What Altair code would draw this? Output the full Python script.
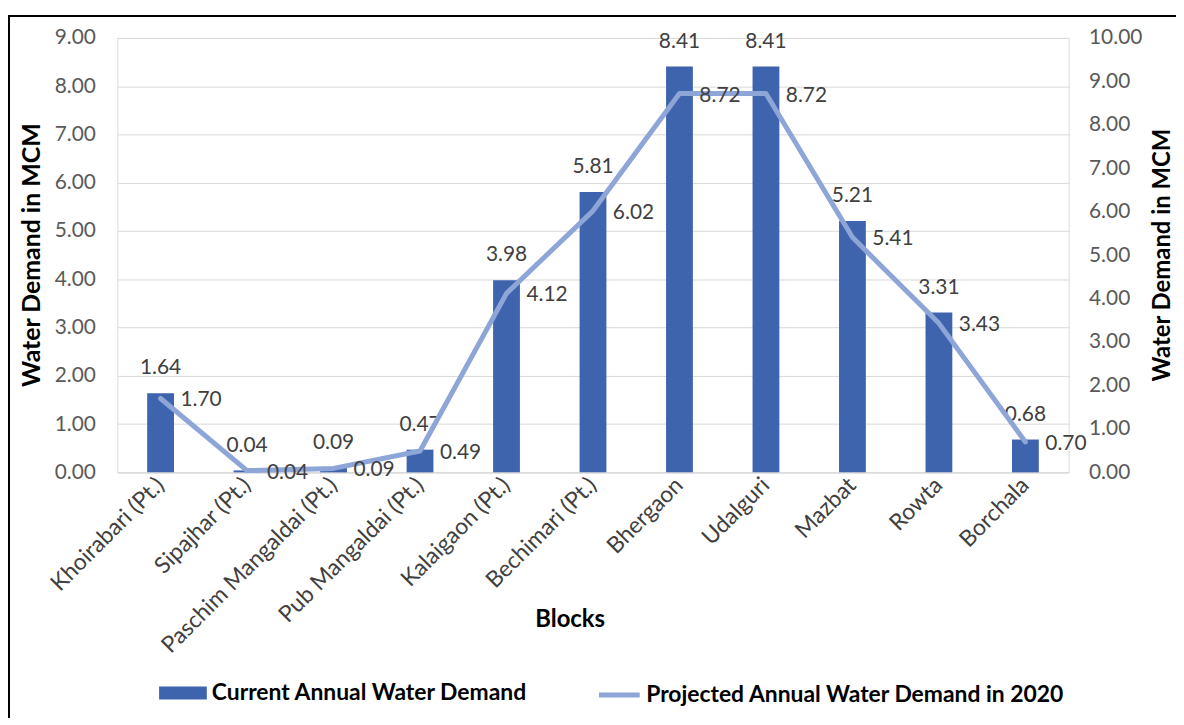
import altair as alt
import pandas as pd

blocks = ["Khoirabari (Pt.)", "Sipajhar (Pt.)", "Paschim Mangaldai (Pt.)", "Pub Mangaldai (Pt.)",
          "Kalaigaon (Pt.)", "Bechimari (Pt.)", "Bhergaon", "Udalguri", "Mazbat", "Rowta", "Borchala"]
current = [1.64, 0.04, 0.09, 0.47, 3.98, 5.81, 8.41, 8.41, 5.21, 3.31, 0.68]
projected = [1.70, 0.04, 0.09, 0.49, 4.12, 6.02, 8.72, 8.72, 5.41, 3.43, 0.70]
left_ticks = [0, 1, 2, 3, 4, 5, 6, 7, 8, 9]
right_ticks = [0, 1, 2, 3, 4, 5, 6, 7, 8, 9, 10]
bar_series = "Current Annual Water Demand"
line_series = "Projected Annual Water Demand in  2020"
x_title = "Blocks"
y_title = "Water Demand in MCM"

df = pd.DataFrame({"block": blocks, "current": current, "projected": projected,
                   "bar_series": bar_series, "line_series": line_series})

FONT = "Lato"
BAR_COLOR = "#3E64AD"
LINE_COLOR = "#8EA5D8"
GRID = "#D9D9D9"
LABEL_SIZE = 21

x_axis = alt.Axis(
    title=x_title, labelAngle=-45, labelAlign="right", labelBaseline="middle",
    labelPadding=9, labelFont=FONT, labelFontSize=23, labelColor="#404040",
    labelOverlap=False, labelLimit=400, ticks=False, domain=True, domainColor=GRID,
    domainWidth=1, grid=False, titleFont=FONT, titleFontSize=24, titleFontWeight="bold",
    titleColor="black", titleX=455, titleY=148, titleBaseline="middle",
)
x_enc = alt.X("block:N", sort=blocks, axis=x_axis,
              scale=alt.Scale(paddingInner=0.69, paddingOuter=0.345))

left_axis = alt.Axis(
    values=left_ticks, format=".2f", orient="left", grid=True, gridColor=GRID, gridWidth=1,
    domain=False, ticks=False, labelFont=FONT, labelFontSize=LABEL_SIZE, labelColor="#595959",
    labelPadding=22, title=y_title, titleFont=FONT, titleFontSize=25, titleFontWeight="bold",
    titleColor="black", titleAngle=-90, titleX=-86, titleY=218, titleBaseline="middle",
)
right_axis = alt.Axis(
    values=right_ticks, format=".2f", orient="right", grid=False, domain=False, ticks=False,
    labelFont=FONT, labelFontSize=LABEL_SIZE, labelColor="#595959", labelAlign="left",
    labelPadding=20, title=y_title, titleFont=FONT, titleFontSize=24, titleFontWeight="bold",
    titleColor="black", titleAngle=-90, titleX=94, titleY=218, titleBaseline="middle",
)
y_left = alt.Y("current:Q", scale=alt.Scale(domain=[0, 9], nice=False, zero=True), axis=left_axis)
y_right = alt.Y("projected:Q", scale=alt.Scale(domain=[0, 10], nice=False, zero=True), axis=right_axis)

base = alt.Chart(df)

bars = base.mark_bar(color=BAR_COLOR).encode(
    x=x_enc, y=y_left,
    fill=alt.Fill("bar_series:N", scale=alt.Scale(domain=[bar_series], range=[BAR_COLOR]),
                  legend=alt.Legend(orient="none", legendX=42, legendY=635, title=None,
                                    symbolType="M-1,-0.27H1V0.27H-1Z", symbolSize=2304,
                                    symbolStrokeWidth=0, labelFont=FONT, labelFontWeight="bold",
                                    labelFontSize=23, labelColor="black", labelOffset=5,
                                    padding=0, labelLimit=600)),
)
bar_labels = base.mark_text(dy=-25, baseline="middle", align="center", font=FONT,
                            fontSize=LABEL_SIZE, color="#404040").encode(
    x=x_enc, y=y_left, text=alt.Text("current:Q", format=".2f"))

line = base.mark_line(strokeWidth=5, strokeCap="round", strokeJoin="round").encode(
    x=x_enc, y=y_right,
    stroke=alt.Stroke("line_series:N", scale=alt.Scale(domain=[line_series], range=[LINE_COLOR]),
                      legend=alt.Legend(orient="none", legendX=482, legendY=638, title=None,
                                        symbolType="stroke", symbolSize=1681, symbolStrokeWidth=5,
                                        labelFont=FONT, labelFontWeight="bold", labelFontSize=23,
                                        labelColor="black", labelOffset=4, padding=0,
                                        labelLimit=600)),
)
line_labels = base.mark_text(dx=20, dy=2, baseline="middle", align="left", font=FONT,
                             fontSize=LABEL_SIZE, color="#404040").encode(
    x=x_enc, y=y_right, text=alt.Text("projected:Q", format=".2f"))

frame = alt.Chart(pd.DataFrame({"f": [0]})).mark_rect(
    fill="white", fillOpacity=0, stroke="black", strokeWidth=2).encode(
    x=alt.value(-109), x2=alt.value(1200), y=alt.value(-22), y2=alt.value(700))

left = alt.layer(bars, bar_labels)
right = alt.layer(line, line_labels)

chart = alt.layer(left, right, frame).resolve_scale(y="independent").properties(
    width=957, height=437,
    autosize=alt.AutoSizeParams(type="none"),
    padding={"left": 110, "top": 28, "right": 108, "bottom": 245},
).configure_view(stroke=None).configure(background="white")

chart.save("out.html", embed_options={"renderer": "svg", "actions": False})
